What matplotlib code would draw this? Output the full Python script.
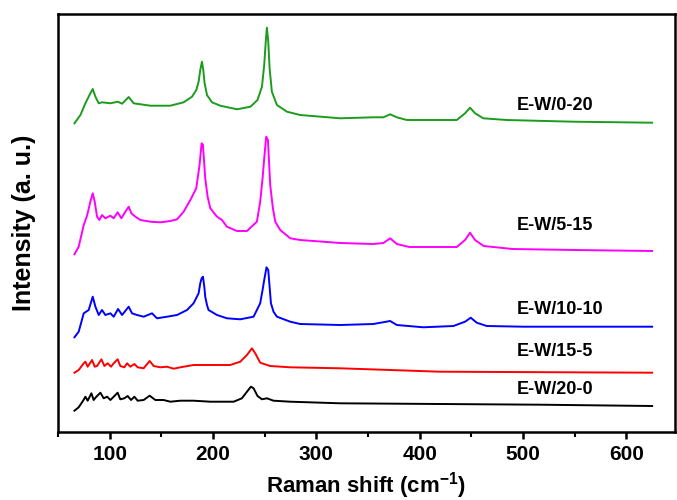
import matplotlib
matplotlib.use('Agg')
import matplotlib.pyplot as plt
from matplotlib.ticker import MultipleLocator

plt.rcParams['font.family'] = ['Liberation Sans', 'DejaVu Sans']
plt.rcParams['font.weight'] = 'bold'
plt.rcParams['mathtext.fontset'] = 'custom'
plt.rcParams['mathtext.rm'] = 'Liberation Sans:bold'
plt.rcParams['mathtext.bf'] = 'Liberation Sans:bold'
plt.rcParams['mathtext.default'] = 'bf'

# Raman spectra (intensity in arbitrary units, already offset)
wn_0_20 = [65.9, 71.7, 76.5, 81.3, 83.6, 86.2, 89.4, 92.6, 100.7, 107.8, 112.0, 118.4, 123.2,
           139.4, 158.7, 171.6, 179.7, 183.9, 186.1, 187.7, 189.3, 190.6, 191.9, 194.2, 199.0,
           207.1, 223.2, 236.3, 243.1, 247.4, 249.6, 251.3, 252.2, 253.5, 254.8, 257.0, 261.9,
           271.6, 284.4, 323.1, 355.3, 365.0, 371.5, 378.0, 387.6, 436.0, 444.0, 448.8, 453.7,
           461.7, 484.3, 548.8, 625.1]
int_0_20 = [308.7, 317.0, 328.7, 338.7, 343.0, 335.3, 328.7, 329.7, 328.7, 330.3, 328.3, 335.0, 328.7,
            326.3, 326.3, 329.7, 335.3, 342.0, 350.3, 362.0, 370.3, 362.0, 348.7, 337.0, 329.7,
            326.3, 322.7, 325.3, 332.0, 345.3, 367.0, 393.7, 404.3, 390.3, 363.7, 340.3, 327.0,
            320.3, 317.0, 313.7, 314.7, 314.7, 317.7, 314.7, 312.0, 312.0, 318.7, 324.3, 318.7,
            313.7, 312.0, 310.3, 309.3]

wn_5_15 = [65.9, 70.0, 74.9, 78.1, 81.3, 83.6, 85.5, 87.8, 90.0, 92.6, 95.8, 100.7, 103.9, 107.7,
           111.3, 115.2, 118.4, 121.0, 124.9, 129.7, 139.4, 149.0, 158.7, 165.2, 171.6, 178.1,
           183.8, 187.0, 189.0, 190.3, 192.5, 194.8, 197.4, 203.9, 208.7, 213.5, 223.2, 232.9,
           242.5, 245.7, 248.0, 249.6, 251.5, 253.2, 255.4, 258.0, 260.3, 265.1, 274.8, 284.4,
           323.1, 355.0, 365.0, 371.5, 378.0, 390.0, 436.0, 444.0, 448.8, 453.7, 462.0, 490.0,
           550.0, 625.1]
int_5_15 = [177.7, 185.3, 207.0, 216.3, 230.3, 238.7, 230.3, 215.3, 212.0, 217.0, 213.7, 216.3, 213.7, 219.7,
            213.7, 220.3, 225.3, 218.7, 215.3, 212.0, 210.3, 209.7, 211.0, 212.7, 220.3, 232.0,
            243.7, 267.0, 288.7, 287.0, 253.7, 235.3, 223.7, 215.3, 212.0, 205.3, 201.0, 201.0,
            210.3, 230.3, 253.7, 273.7, 295.3, 292.0, 247.0, 223.7, 210.3, 202.0, 193.7, 192.0,
            189.0, 188.0, 189.0, 193.7, 188.0, 185.0, 185.0, 192.0, 199.3, 192.0, 186.0, 183.0,
            182.0, 181.0]

wn_10_10 = [65.9, 70.0, 74.9, 79.7, 83.6, 86.2, 89.4, 92.6, 95.8, 100.7, 103.9, 108.1, 112.0,
            118.4, 121.6, 126.5, 132.9, 141.0, 145.8, 155.5, 165.2, 174.9, 181.2, 186.1, 187.7,
            189.0, 190.3, 191.6, 192.5, 194.2, 195.7, 203.9, 213.5, 226.4, 239.3, 245.7, 248.0,
            249.6, 251.8, 253.5, 254.8, 256.1, 258.6, 261.9, 274.8, 284.4, 323.1, 355.3, 371.5,
            378.0, 403.7, 432.7, 444.0, 449.5, 455.3, 465.0, 500.4, 625.1]
int_10_10 = [94.7, 100.3, 118.7, 122.0, 135.3, 125.3, 117.0, 122.0, 117.0, 118.7, 115.3, 123.0, 117.0,
             125.3, 118.7, 117.0, 115.3, 118.7, 113.7, 115.3, 117.0, 122.0, 128.7, 138.7, 148.7,
             153.7, 155.3, 145.3, 135.3, 127.0, 122.0, 117.0, 113.7, 112.7, 115.3, 128.7, 142.0,
             152.0, 164.7, 162.0, 145.3, 128.7, 120.3, 115.3, 110.3, 108.0, 107.0, 108.0, 111.0,
             107.0, 104.7, 106.0, 110.3, 114.3, 109.3, 106.0, 105.3, 105.3]

wn_15_5 = [65.9, 70.0, 74.9, 76.5, 78.7, 83.0, 85.5, 87.8, 92.0, 94.9, 98.1, 101.3, 103.9, 107.7,
           110.3, 114.2, 116.8, 120.0, 123.9, 127.1, 132.9, 138.7, 142.6, 149.0, 155.5, 161.9,
           168.4, 181.2, 197.4, 216.7, 226.4, 232.9, 237.7, 240.9, 245.7, 255.4, 274.8, 323.1,
           371.5, 419.8, 625.1]
int_15_5 = [59.3, 62.0, 68.7, 70.3, 65.3, 72.0, 65.3, 66.0, 72.7, 66.0, 68.7, 65.3, 68.7, 72.7,
            66.0, 64.7, 68.7, 65.3, 68.0, 64.7, 63.7, 71.0, 66.0, 64.7, 65.3, 63.3,
            64.7, 67.0, 67.0, 67.0, 70.3, 77.0, 83.7, 78.7, 69.3, 66.0, 64.7, 63.7,
            62.0, 60.3, 59.3]

wn_20_0 = [65.9, 70.0, 74.3, 76.5, 78.7, 82.3, 84.5, 87.1, 91.0, 94.2, 97.5, 100.7, 103.9, 107.7,
           110.3, 114.2, 117.4, 120.7, 123.9, 127.1, 132.9, 138.7, 144.2, 152.2, 158.7, 168.4,
           181.2, 197.4, 220.0, 228.0, 232.9, 236.7, 239.3, 243.1, 247.4, 252.2, 258.6, 274.8,
           323.1, 419.8, 516.5, 625.1]
int_20_0 = [21.3, 24.7, 31.3, 35.3, 31.3, 38.7, 32.0, 35.3, 39.3, 33.7, 35.3, 32.0, 35.3, 39.3,
            32.7, 33.7, 36.0, 32.0, 35.3, 31.3, 32.0, 36.3, 32.0, 32.0, 30.3, 31.3,
            31.3, 30.3, 30.3, 33.7, 40.3, 45.3, 43.7, 36.0, 32.7, 33.7, 31.3, 30.3,
            28.7, 28.0, 27.3, 26.0]

labels = ['E-W/0-20', 'E-W/5-15', 'E-W/10-10', 'E-W/15-5', 'E-W/20-0']
label_y = [326, 207, 122, 80, 42]
colors = ['#1c9c1c', '#ff00ff', '#0000ff', '#ff0000', '#000000']

fig = plt.figure(figsize=(6.77, 5.0), dpi=100)
ax = fig.add_axes([0.0857, 0.136, 0.911, 0.836])

series = [(wn_0_20, int_0_20), (wn_5_15, int_5_15), (wn_10_10, int_10_10),
          (wn_15_5, int_15_5), (wn_20_0, int_20_0)]
for (x, y), c, lab, ly in zip(series, colors, labels, label_y):
    ax.plot(x, y, color=c, lw=1.4)
    ax.text(494, ly, lab, fontsize=13, fontweight='bold', va='center', ha='left')

ax.set_xlim(50, 647)
ax.set_ylim(0, 418)
ax.set_yticks([])
ax.xaxis.set_major_locator(MultipleLocator(100))
ax.xaxis.set_minor_locator(MultipleLocator(50))
ax.tick_params(axis='x', which='major', direction='out', length=5, width=1.8,
               labelsize=15, pad=4)
ax.tick_params(axis='x', which='minor', direction='out', length=3.5, width=1.5)
ax.tick_params(top=False, right=False)
for sp in ax.spines.values():
    sp.set_linewidth(1.8)

ax.set_xlabel('Raman shift (cm$^{-1}$)', fontsize=16, fontweight='bold', labelpad=5)
ax.set_ylabel('Intensity (a. u.)', fontsize=18, fontweight='bold', labelpad=16)

fig.savefig('out.png', dpi=100)
